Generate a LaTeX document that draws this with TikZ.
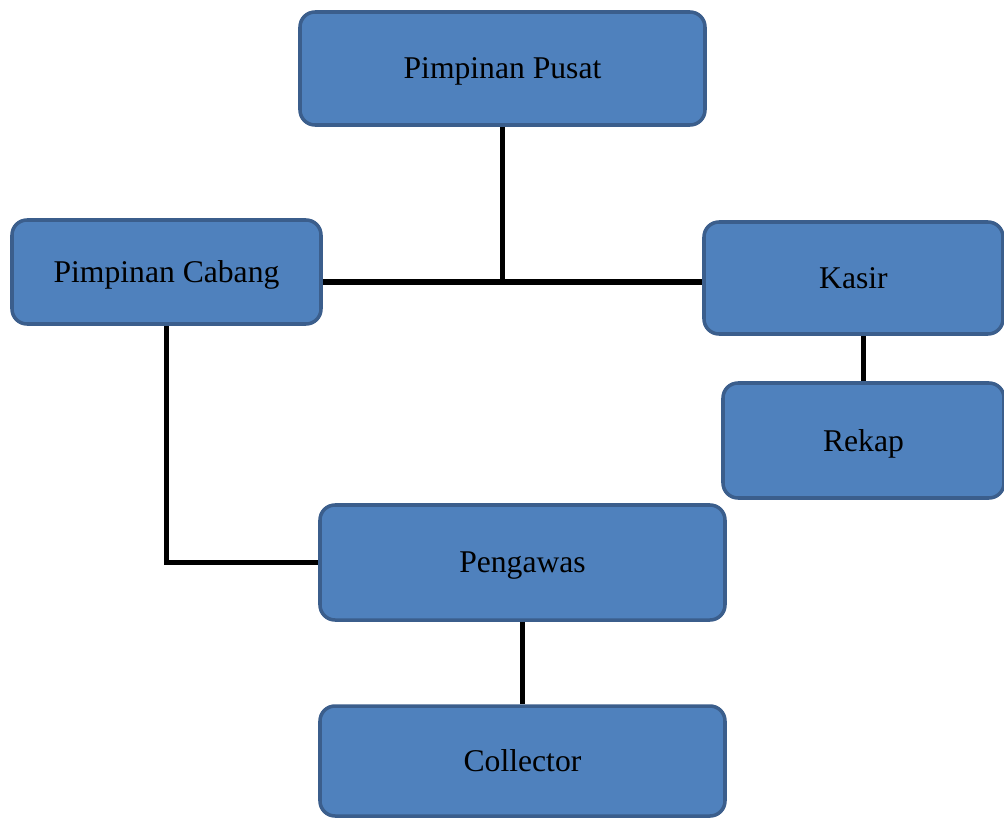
\documentclass[tikz,border=0pt]{standalone}
\usepackage{fontspec}
\setmainfont{Liberation Serif}
\definecolor{boxfill}{HTML}{4F81BD}
\definecolor{boxline}{HTML}{3B5E8C}
\tikzset{% styles for the boxes and the links between them
   orgbox/.style={rectangle, rounded corners=3mm, draw=boxline, line width=2pt,
                  fill=boxfill, inner sep=0mm, text depth=0pt,
                  font=\fontsize{18}{21}\selectfont},
   orglink/.style={line width=3.2pt, black}
}
\begin{document}
\begin{tikzpicture}
   \useasboundingbox (0,0) rectangle (20.08,-16.36);
   \node (pusat) at (10.05,-1.37) [orgbox, minimum width=8.1cm, minimum height=2.26cm] {Pimpinan Pusat};
   \node (cabang) at (3.33,-5.44) [orgbox, minimum width=6.18cm, minimum height=2.08cm] {Pimpinan Cabang};
   \node (kasir) at (17.07,-5.56) [orgbox, minimum width=5.98cm, minimum height=2.24cm] {Kasir};
   \node (rekap) at (17.27,-8.81) [orgbox, minimum width=5.62cm, minimum height=2.3cm] {Rekap};
   \node (pengawas) at (10.45,-11.25) [orgbox, minimum width=8.1cm, minimum height=2.3cm] {Pengawas};
   \node (collector) at (10.45,-15.22) [orgbox, minimum width=8.1cm, minimum height=2.2cm] {Collector};
   % junction under the top box
   \coordinate (jct) at (10.05,-5.64);
   \draw[orglink] (pusat) -- (jct);
   \draw[orglink] (cabang.east |- jct) -- (kasir.west |- jct);
   \draw[orglink] (cabang.south) |- (pengawas.west);
   \draw[orglink] (rekap.north) -- (rekap.north |- kasir.south);
   \draw[orglink] (pengawas) -- (collector);
\end{tikzpicture}
\end{document}
